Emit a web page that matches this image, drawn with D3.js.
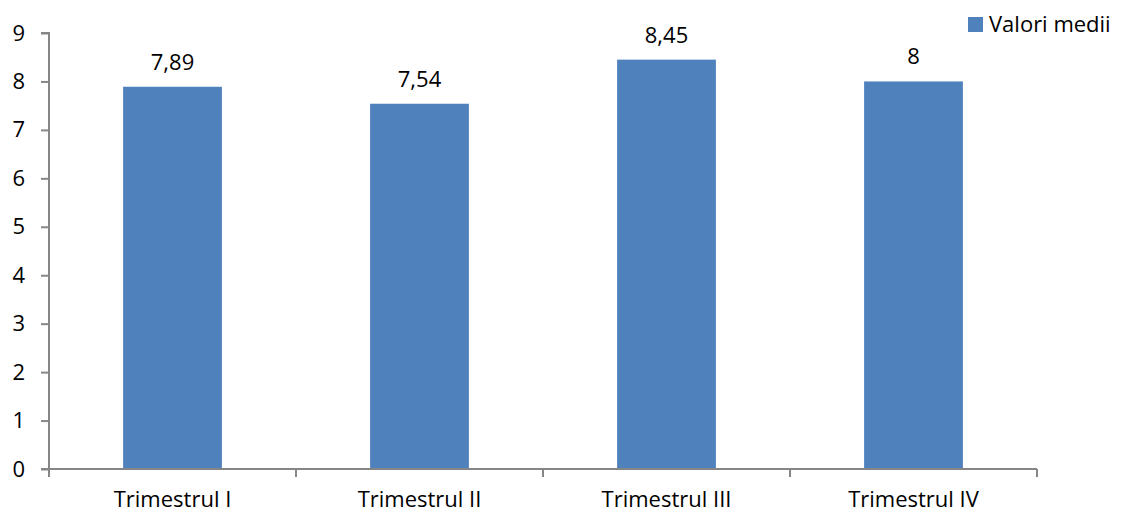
<!DOCTYPE html>
<html><head><meta charset="utf-8">
<script src="https://cdn.jsdelivr.net/npm/d3@7"></script>
<style>body{margin:0;background:#fff}svg{display:block}text{font-family:"Open Sans",sans-serif;fill:#000}</style>
</head><body><svg id="c" width="1121" height="515"></svg>
<script>
const categories = ["Trimestrul I","Trimestrul II","Trimestrul III","Trimestrul IV"];
const values = [7.89, 7.54, 8.45, 8];
const valueLabels = ["7,89","7,54","8,45","8"];
const yTicks = [0,1,2,3,4,5,6,7,8,9];
const seriesName = "Valori medii";

const svg = d3.select("#c");
const mLeft = 49, mRight = 1037, mTop = 33, mBottom = 469;
const x = d3.scaleBand().domain(categories).range([mLeft, mRight]).padding(0);
const y = d3.scaleLinear().domain([0, 9]).range([mBottom, mTop]);
const color = "#4F81BD", axisCol = "#868686";
const fs = 22;

// bars
const bw = x.bandwidth() * 0.4;
svg.selectAll("rect.bar").data(values).enter().append("rect")
  .attr("x", (d,i) => x(categories[i]) + (x.bandwidth() - bw)/2)
  .attr("y", d => y(d)).attr("width", bw).attr("height", d => y(0) - y(d))
  .attr("fill", color);

// value labels
svg.selectAll("text.val").data(values).enter().append("text")
  .attr("x", (d,i) => x(categories[i]) + x.bandwidth()/2)
  .attr("y", d => y(d) - 17).attr("text-anchor","middle").attr("font-size", fs)
  .text((d,i) => valueLabels[i]);

// y axis
const yAxis = d3.axisLeft(y).tickValues(yTicks).tickSize(8).tickPadding(16).tickFormat(d3.format("d"));
const gy = svg.append("g").attr("transform", `translate(${mLeft},0)`).call(yAxis);
gy.select(".domain").attr("stroke", axisCol).attr("stroke-width", 2).attr("d", `M-8,${mTop}H0V${mBottom}H-8`);
gy.selectAll(".tick line").attr("stroke", axisCol).attr("stroke-width", 2);
gy.selectAll(".tick text").attr("font-size", fs).attr("font-family", '"Open Sans",sans-serif').attr("fill","#000");

// x axis
const gx = svg.append("g").attr("transform", `translate(0,${mBottom})`);
gx.append("line").attr("x1", mLeft - 8).attr("x2", mRight).attr("y1", 0).attr("y2", 0).attr("stroke", axisCol).attr("stroke-width", 2);
const bounds = categories.map(c => x(c)).concat([mRight]);
gx.selectAll("line.tk").data(bounds).enter().append("line")
  .attr("x1", d => d).attr("x2", d => d).attr("y1", 0).attr("y2", 8)
  .attr("stroke", axisCol).attr("stroke-width", 2);
gx.selectAll("text").data(categories).enter().append("text")
  .attr("x", d => x(d) + x.bandwidth()/2).attr("y", 38)
  .attr("text-anchor","middle").attr("font-size", fs).text(d => d);

// legend
const lg = svg.append("g").attr("transform","translate(968,17)");
lg.append("rect").attr("width",15).attr("height",15).attr("fill", color);
lg.append("text").attr("x",21).attr("y",15).attr("font-size", fs).text(seriesName);
</script></body></html>
